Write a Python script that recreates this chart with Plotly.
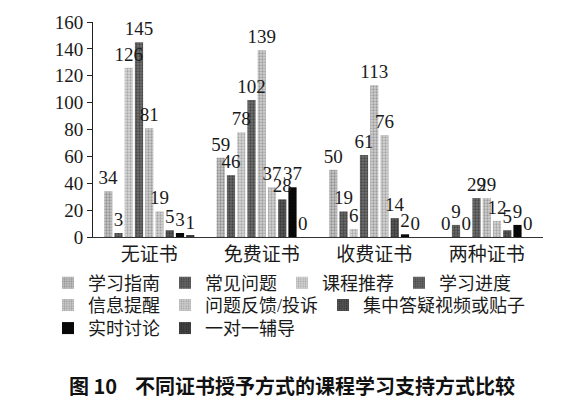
import plotly.graph_objects as go

#categories and series
categories = ["无证书", "免费证书", "收费证书", "两种证书"]
series_names = ["学习指南", "常见问题", "课程推荐", "学习进度", "信息提醒",
                "问题反馈/投诉", "集中答疑视频或贴子", "实时讨论", "一对一辅导"]

guide = [34, 59, 50, 0]
faq = [3, 46, 19, 9]
recommend = [126, 78, 6, 0]
progress = [145, 102, 61, 29]
reminder = [81, 139, 113, 29]
feedback = [19, 37, 76, 12]
qa_video = [5, 28, 14, 5]
live_talk = [3, 37, 2, 9]
one_on_one = [1, 0, 0, 0]

values = [guide, faq, recommend, progress, reminder, feedback, qa_video, live_talk, one_on_one]

#gray halftone look: (background, dots)
styles = [("#c8c8c8", "#5a5a5a"), ("#6a6a6a", "#1e1e1e"), ("#d8d8d8", "#7a7a7a"),
          ("#707070", "#202020"), ("#d0d0d0", "#6a6a6a"), ("#d4d4d4", "#777777"),
          ("#5a5a5a", "#151515"), ("#0a0a0a", "#000000"), ("#4a4a4a", "#101010")]

#which legend row each series goes in
legend_rows = ["legend"] * 4 + ["legend2"] * 3 + ["legend3"] * 2

serif = "'Liberation Serif', 'Times New Roman', 'DejaVu Serif', 'Noto Sans CJK SC'"

fig = go.Figure()
for name, vals, (bg, fg), lg in zip(series_names, values, styles, legend_rows):
    fig.add_trace(go.Bar(
        x=categories, y=vals, name=name, legend=lg,
        marker=dict(color=bg, line=dict(width=0),
                    pattern=dict(shape=".", fgcolor=fg, bgcolor=bg, size=3, solidity=0.45)),
    ))

#labels on an overlaid copy of the axes so they sit on top of every bar
for name, vals in zip(series_names, values):
    fig.add_trace(go.Bar(
        x=categories, y=vals, name=name, showlegend=False, hoverinfo="skip",
        xaxis="x2", yaxis="y2", marker=dict(color="rgba(0,0,0,0)", line=dict(width=0)),
        text=vals, textposition="outside", constraintext="none", cliponaxis=False,
        textfont=dict(family=serif, size=19, color="#1a1a1a"),
    ))

#one legend per row so the wrap matches
def row_legend(y):
    return dict(orientation="h", x=-0.1, xanchor="left", y=y, yanchor="middle",
                font=dict(family=serif, size=18, color="#1a1a1a"),
                itemwidth=30, tracegroupgap=0, bgcolor="rgba(0,0,0,0)")

fig.update_layout(
    width=582, height=400,
    margin=dict(l=93, r=39, t=22, b=163, autoexpand=False),
    paper_bgcolor="white", plot_bgcolor="white",
    barmode="group", bargap=0.18, bargroupgap=0.2,
    font=dict(family=serif, color="#1a1a1a"),
    legend=row_legend(-0.214),
    legend2=row_legend(-0.318),
    legend3=row_legend(-0.425),
    xaxis=dict(showline=True, linecolor="#333", linewidth=1, ticks="",
               tickfont=dict(family=serif, size=19, color="#1a1a1a")),
    yaxis=dict(range=[0, 160], dtick=20, showgrid=False, zeroline=False,
               showline=True, linecolor="#222", linewidth=1,
               ticks="outside", ticklen=5, tickcolor="#222",
               tickfont=dict(family=serif, size=19, color="#1a1a1a")),
    xaxis2=dict(overlaying="x", matches="x", visible=False),
    yaxis2=dict(overlaying="y", matches="y", visible=False),
)

#figure caption
fig.add_annotation(text="<b>图 10</b>    <b>不同证书授予方式的课程学习支持方式比较</b>",
                   xref="paper", yref="paper", x=-0.058, xanchor="left",
                   y=-0.69, yanchor="middle", showarrow=False,
                   font=dict(family="Noto Sans CJK SC", size=20, color="#111"))

#drop the default body margin so the 582x400 figure fills the window
fig.write_html("out.html", config={"displayModeBar": False},
               post_script="document.body.style.margin='0';")
